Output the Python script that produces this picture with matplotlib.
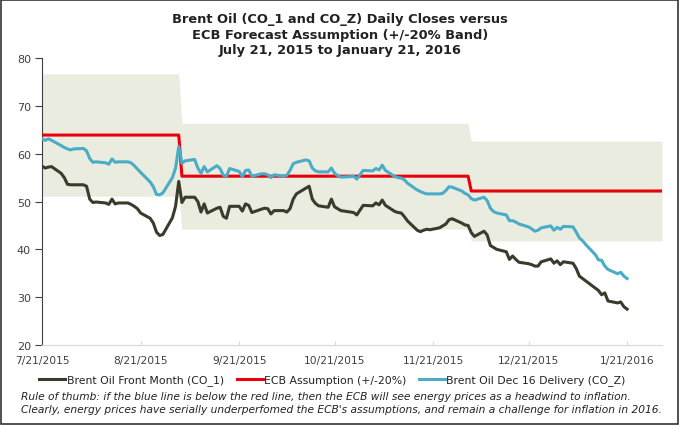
import numpy as np
import pandas as pd
import matplotlib
matplotlib.use('Agg')
import matplotlib.pyplot as plt
from matplotlib.lines import Line2D
from matplotlib.patches import Rectangle

plt.rcParams.update({'font.family': 'DejaVu Sans'})

# daily closes (business days 7/21/2015 - 1/21/2016)
start, end = '2015-07-21', '2016-01-21'
co1 = [57.4, 57.0, 57.2, 57.3, 55.9, 55.0, 53.6, 53.5, 53.5,
       53.5, 53.2, 50.5, 49.8, 49.9, 49.7, 49.4, 50.5, 49.5, 49.7, 49.7, 49.4, 49.0, 48.5, 47.6,
       46.5, 45.5, 43.6, 42.9, 43.1, 46.6,
       49.0, 54.2, 49.8, 50.9, 50.9, 50.0, 47.8, 49.5, 47.6, 48.6, 48.8, 46.9, 46.5, 49.0, 49.0,
       48.0, 49.5, 49.2, 47.7, 48.4, 48.6, 48.5,
       47.4, 48.1, 48.1, 47.8, 48.5, 50.5, 51.6, 52.8, 53.2, 50.5, 49.6, 49.1, 48.8, 50.5, 48.9,
       48.5, 48.1, 47.8, 47.7, 47.2, 48.2, 49.2,
       49.1, 49.7, 49.3, 50.3, 49.2, 47.9, 47.7, 47.6, 46.8, 45.9, 44.0, 43.7, 44.0, 44.2, 44.1,
       44.5, 44.9, 45.3, 46.2, 46.4, 45.5,
       45.1, 45.0, 43.5, 42.7, 43.8, 43.0, 40.8, 40.4, 40.0, 39.5, 37.9, 38.6, 37.9, 37.3, 37.0,
       36.8, 36.5, 36.5, 37.4, 38.0, 37.1, 37.6, 36.8,
       37.4, 37.1, 36.0, 34.4, 33.9, 33.4, 31.9, 31.4, 30.5, 30.9, 29.2, 28.8, 29.0, 28.0, 27.5]
coz = [63.1, 62.8, 63.1, 62.8, 61.7, 61.3, 61.0, 60.8, 61.0,
       61.1, 60.6, 59.0, 58.2, 58.3, 58.1, 57.8, 58.9, 58.2, 58.3, 58.3, 58.1, 57.5, 56.8, 56.1,
       54.1, 53.1, 51.5, 51.4, 51.8, 55.0,
       57.0, 61.5, 58.0, 58.5, 58.8, 57.0, 55.9, 57.3, 56.2, 57.5, 56.9, 55.5, 55.3, 56.9, 56.3,
       55.2, 56.5, 56.6, 55.3, 55.8, 55.8, 55.6,
       55.0, 55.6, 55.3, 55.5, 56.5, 57.9, 58.2, 58.7, 58.5, 57.0, 56.4, 56.2, 56.2, 57.0, 55.9,
       55.4, 55.1, 55.2, 55.3, 54.7, 55.6, 56.5,
       56.4, 56.9, 56.6, 57.6, 56.5, 55.2, 55.0, 54.9, 54.5, 53.8, 52.4, 52.1, 51.8, 51.6, 51.6,
       51.6, 51.7, 52.3, 53.1, 53.0, 52.2,
       51.7, 51.4, 50.6, 50.3, 50.9, 50.2, 48.6, 47.9, 47.6, 47.2, 46.0, 46.0, 45.7, 45.3, 44.7,
       44.3, 43.8, 44.0, 44.5, 44.9, 44.0, 44.6, 44.2,
       44.8, 44.7, 43.6, 42.4, 41.8, 41.0, 38.9, 37.8, 37.7, 36.5, 35.8, 34.9, 35.2, 34.4, 33.9]

# ECB oil price assumptions and the day each took effect
ecb_start = ['2015-07-21', '2015-09-03', '2015-12-03']
ecb_level = [63.9, 55.3, 52.2]
ecb_end = '2016-02-01'
band = 0.20

tick_dates = ['2015-07-21', '2015-08-21', '2015-09-21', '2015-10-21',
              '2015-11-21', '2015-12-21', '2016-01-21']
labels = ['Brent Oil Front Month (CO_1)', 'ECB Assumption (+/-20%)',
          'Brent Oil Dec 16 Delivery (CO_Z)']
colors = ['#3b3b2c', '#e8000b', '#4bacc6']

title = ('Brent Oil (CO_1 and CO_Z) Daily Closes versus\n'
         'ECB Forecast Assumption (+/-20% Band)\n'
         'July 21, 2015 to January 21, 2016')
note = ('Rule of thumb: if the blue line is below the red line, then the ECB will see energy '
        'prices as a headwind to inflation.\n'
        'Clearly, energy prices have serially underperfomed the ECB\'s assumptions, and remain '
        'a challenge for inflation in 2016.')

dates = pd.bdate_range(start, end)
ecb_dates = pd.bdate_range(start, ecb_end)
idx = np.searchsorted(pd.to_datetime(ecb_start), ecb_dates, side='right') - 1
ecb = np.array(ecb_level)[idx]

fig = plt.figure(figsize=(6.8, 4.27), dpi=100)
ax = fig.add_axes([0.0618, 0.1897, 0.9118, 0.672])

ax.fill_between(ecb_dates, ecb * (1 - band), ecb * (1 + band), color='#eaece0', lw=0, zorder=1)
ax.plot(dates, co1, color=colors[0], lw=2.2, zorder=3)
ax.plot(ecb_dates, ecb, color=colors[1], lw=2.2, zorder=4)
ax.plot(dates, coz, color=colors[2], lw=2.2, zorder=5)

ax.set_xlim(pd.Timestamp(start), pd.Timestamp(ecb_end))
ax.set_ylim(20, 80)
ax.set_yticks(range(20, 90, 10))
ticks = pd.to_datetime(tick_dates)
ax.set_xticks(ticks)
ax.set_xticklabels([f'{d.month}/{d.day}/{d.year}' for d in ticks])

for s in ['top', 'right']:
    ax.spines[s].set_visible(False)
ax.spines['left'].set_color('#404040')
ax.spines['bottom'].set_color('#d9d9d9')
ax.tick_params(axis='y', direction='out', length=5, color='#404040', labelsize=8,
               labelcolor='#404040', pad=3)
ax.tick_params(axis='x', direction='in', length=3, color='#d9d9d9', labelsize=7.7,
               labelcolor='#404040', pad=7.5)

fig.text(0.5, 1 - 35 / 427, title, ha='center', va='center', fontsize=9.4, fontweight='bold',
         color='#222222', linespacing=1.22)

handles = [Line2D([], [], color=c, lw=2.2) for c in colors]
fig.legend(handles, labels, loc='center', bbox_to_anchor=(0.489, 1 - 381 / 427), ncol=3,
           frameon=False, fontsize=7.8, handlelength=2.4, handletextpad=0.1,
           columnspacing=1.2, labelcolor='#222222')

fig.text(21 / 680, 1 - 403.5 / 427, note, ha='left', va='center', fontsize=7.65,
         style='italic', color='#222222', linespacing=1.28)

fig.patches.append(Rectangle((0.001, 0.004), 0.996, 0.994, transform=fig.transFigure,
                             fill=False, edgecolor='#333333', lw=1.2))

fig.savefig('out.png', dpi=100)
